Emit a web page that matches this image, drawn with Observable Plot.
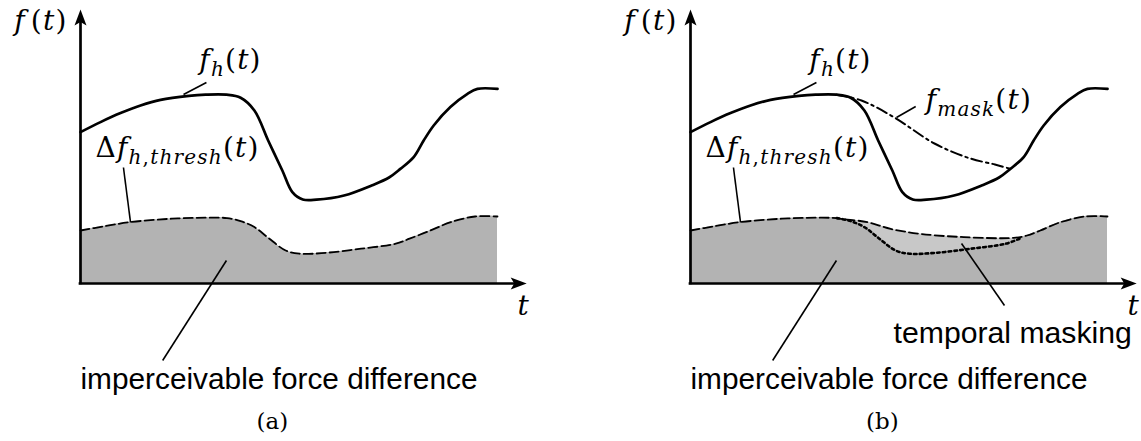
<!DOCTYPE html>
<html>
<head>
<meta charset="utf-8">
<script src="https://cdn.jsdelivr.net/npm/d3@7"></script>
<script src="https://cdn.jsdelivr.net/npm/@observablehq/plot@0.6"></script>
<style>
  html, body { margin: 0; padding: 0; background: #fff; }
  #figure { display: flex; width: 1141px; height: 441px; overflow: hidden; }
  #figure svg { flex: none; display: block; max-width: none !important; overflow: visible; }
</style>
</head>
<body>
<div id="figure"></div>
<script>
// Haptic force signal f_h(t)
const forceT = [0, 0.48, 0.96, 1.44, 1.92, 2.6, 3.0, 3.5, 3.84, 4.17, 4.5, 4.84, 5.08, 5.33, 5.66, 6.32, 6.98, 7.4, 7.67, 7.99, 8.23, 8.47, 8.87, 9.28, 9.52, 10];
const forceF = [7.57, 8.07, 8.52, 8.9, 9.18, 9.38, 9.44, 9.44, 9.29, 8.65, 7.15, 5.65, 4.57, 4.2, 4.19, 4.4, 4.9, 5.3, 5.73, 6.32, 7.15, 7.9, 8.82, 9.48, 9.73, 9.73];

// Perception threshold Δf_h,thresh(t) of the force signal
const threshT = [0, 0.54, 1.2, 2.19, 3.02, 3.51, 3.84, 4.17, 4.5, 4.92, 5.25, 5.91, 6.73, 7.56, 7.89, 8.39, 8.88, 9.46, 10];
const threshF = [2.65, 2.85, 3.07, 3.24, 3.29, 3.27, 3.12, 2.82, 2.29, 1.65, 1.49, 1.54, 1.74, 1.99, 2.24, 2.65, 3.07, 3.35, 3.35];

// Masking curve f_mask(t) after the force drop
const maskT = [3.5, 4.1, 4.89, 5.85, 6.71, 7.3, 7.67];
const maskF = [9.44, 9.15, 8.3, 7.0, 6.25, 5.95, 5.73];

// Raised threshold while temporal masking is active
const maskThreshT = [3.65, 4.24, 4.8, 5.52, 6.55, 7.75, 8.07];
const maskThreshF = [3.22, 3.07, 2.73, 2.48, 2.32, 2.28, 2.4];
const maskStart = 3.51, maskEnd = 8.39, dottedEnd = 7.89;

// Text
const axisLabelF = "f(t)";
const axisLabelT = "t";
const forceLabel = "f_{h}(t)";
const threshLabel = "Δf_{h,thresh}(t)";
const maskLabel = "f_{mask}(t)";
const captionText = "imperceivable force difference";
const maskingText = "temporal masking";
const panelNames = ["(a)", "(b)"];
const mathTexts = new Set([axisLabelF, axisLabelT, forceLabel, threshLabel, maskLabel]);

const pts = (T, F) => T.map((t, i) => ({t, f: F[i]}));
const force = pts(forceT, forceF);
const thresh = pts(threshT, threshF);
const maskCurve = pts(maskT, maskF);
const maskThresh = [
  ...thresh.filter(d => d.t <= maskStart),
  ...pts(maskThreshT, maskThreshF),
  ...thresh.filter(d => d.t >= maskEnd)
];
const dotted = thresh.filter(d => d.t >= maskStart && d.t <= dottedEnd);

// filled "stealth" arrowheads, tip at the anchor point
const arrowUp = {draw(c) { c.moveTo(0, 0); c.lineTo(6, 16); c.lineTo(0, 12.5); c.lineTo(-6, 16); c.closePath(); }};
const arrowRight = {draw(c) { c.moveTo(0, 0); c.lineTo(-16, -6); c.lineTo(-12.5, 0); c.lineTo(-16, 6); c.closePath(); }};

const MATH_FONT = "DejaVu Serif";
const SANS_FONT = "Liberation Sans";
const curve = "catmull-rom";

function panel(index, width, marginRight) {
  const masked = index === 1;
  const mathText = (data, opts) => Plot.text(data, {
    x: "t", y: "f", text: "s", lineAnchor: "bottom", fontFamily: MATH_FONT, fontSize: 28, fill: "black", ...opts
  });
  const sansText = (data, opts) => Plot.text(data, {
    x: "t", y: "f", text: "s", textAnchor: "start", lineAnchor: "bottom", fontFamily: SANS_FONT, fontSize: 29.8, fill: "black", ...opts
  });
  const marks = [
    masked ? Plot.areaY(maskThresh, {x: "t", y: "f", fill: "#c8c8c8", curve}) : null,
    Plot.areaY(thresh, {x: "t", y: "f", fill: "#b3b3b3", curve}),
    Plot.line(masked ? maskThresh : thresh, {x: "t", y: "f", stroke: "black", strokeWidth: 1.8, strokeDasharray: "9,4", curve}),
    masked ? Plot.line(dotted, {x: "t", y: "f", stroke: "black", strokeWidth: 2.6, strokeDasharray: "2.6,3.2", curve}) : null,
    Plot.line(force, {x: "t", y: "f", stroke: "black", strokeWidth: 2.7, curve}),
    masked ? Plot.line(maskCurve, {x: "t", y: "f", stroke: "black", strokeWidth: 2, strokeDasharray: "11,4,2.5,4", curve}) : null,
    // axes with arrowheads
    Plot.ruleX([0], {y1: 0, y2: 13.2, stroke: "black", strokeWidth: 2.7, strokeLinecap: "square"}),
    Plot.ruleY([0], {x1: 0, x2: 10.45, stroke: "black", strokeWidth: 2.7, strokeLinecap: "square"}),
    Plot.dot([{t: 0, f: 13.7}], {x: "t", y: "f", symbol: arrowUp, fill: "black", stroke: "none"}),
    Plot.dot([{t: 10.7, f: 0}], {x: "t", y: "f", symbol: arrowRight, fill: "black", stroke: "none"}),
    // leader lines
    Plot.link([
      {t1: 2.47, f1: 9.45, t2: 3.02, f2: 10.05},
      {t1: 1.03, f1: 5.8, t2: 1.2, f2: 3.05},
      {t1: 3.5, f1: 1.15, t2: 1.97, f2: -3.85},
      ...(masked ? [
        {t1: 4.94, f1: 8.3, t2: 5.4, f2: 8.85},
        {t1: 6.5, f1: 2.0, t2: 7.53, f2: -1.1}
      ] : [])
    ], {x1: "t1", y1: "f1", x2: "t2", y2: "f2", stroke: "black", strokeWidth: 1.6}),
    // labels
    mathText([{s: axisLabelF, t: -0.31, f: 12.7}], {textAnchor: "end"}),
    mathText([{s: axisLabelT, t: 10.78, f: -1.55}], {textAnchor: "end"}),
    mathText([{s: forceLabel, t: 2.85, f: 10.75}], {textAnchor: "start"}),
    mathText([{s: threshLabel, t: 0.36, f: 6.35}], {textAnchor: "start"}),
    masked ? mathText([{s: maskLabel, t: 5.64, f: 8.75}], {textAnchor: "start"}) : null,
    sansText([{s: captionText, t: 0, f: -5.25}]),
    masked ? sansText([{s: maskingText, t: 4.87, f: -2.95}], {fontSize: 30.2}) : null,
    Plot.text([{s: panelNames[index], t: 4.6, f: -7.25}], {x: "t", y: "f", text: "s", textAnchor: "middle", lineAnchor: "bottom", fontFamily: MATH_FONT, fontSize: 23, fill: "black"})
  ].filter(Boolean);

  const svg = Plot.plot({
    width, height: 441,
    marginLeft: 80, marginRight, marginTop: 9, marginBottom: 158,
    x: {domain: [0, 10], axis: null},
    y: {domain: [0, 13.7], axis: null},
    marks
  });
  typeset(svg);
  return svg;
}

// turn "f_{h}(t)" into italic letters, upright punctuation and subscripts
function typeset(svg) {
  const SUB = 20, DROP = 7;
  d3.select(svg).selectAll("text").each(function () {
    const s = this.textContent;
    if (!mathTexts.has(s)) return;
    const el = d3.select(this).attr("letter-spacing", 1.2);
    el.text(null);
    let i = 0, pendingUp = false, prevItalic = false;
    while (i < s.length) {
      let chunk, sub = false;
      if (s.startsWith("_{", i)) {
        const j = s.indexOf("}", i);
        chunk = s.slice(i + 2, j); sub = true; i = j + 1;
      } else {
        chunk = s[i]; i++;
      }
      [...chunk].forEach((c, k) => {
        const italic = /[a-z]/i.test(c);
        const ts = el.append("tspan").text(c)
          .attr("font-style", italic ? "italic" : "normal");
        if (sub) {
          ts.attr("font-size", SUB);
          if (k === 0) ts.attr("dy", DROP);
        } else {
          if (pendingUp) ts.attr("dy", -DROP);
          // a little room between an italic function name and its parenthesis
          else if (c === "(" && prevItalic) ts.attr("dx", 5);
        }
        pendingUp = sub;
        prevItalic = italic && !sub;
      });
    }
  });
}

const fig = document.getElementById("figure");
fig.appendChild(panel(0, 610, 113));
fig.appendChild(panel(1, 531, 34));
</script>
</body>
</html>
